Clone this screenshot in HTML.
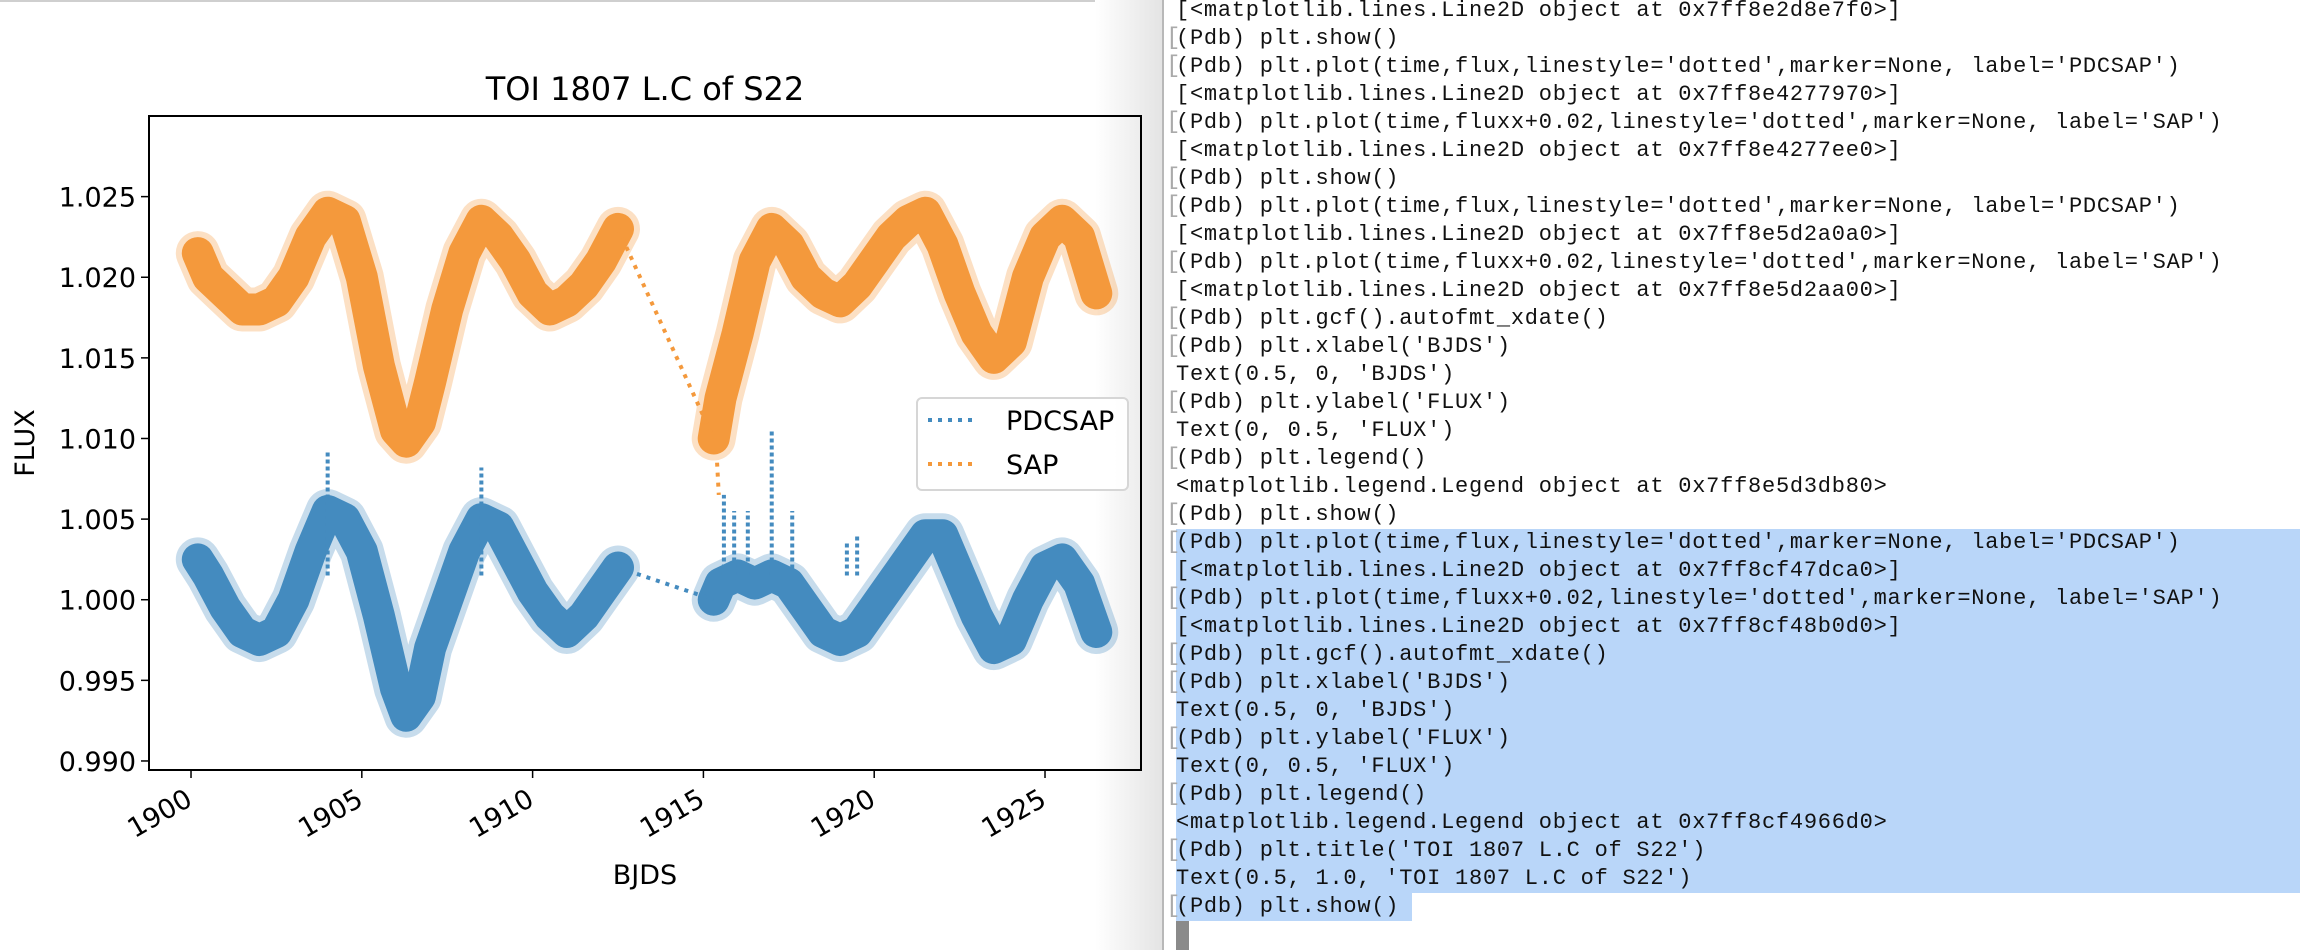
<!DOCTYPE html>
<html><head><meta charset="utf-8">
<style>
html,body{margin:0;padding:0;background:#fff;}
body{width:2300px;height:950px;position:relative;overflow:hidden;font-family:"DejaVu Sans","Liberation Sans",sans-serif;}
#term{position:absolute;left:1162px;top:0;width:1138px;height:950px;background:#fff;border-left:2px solid #b8b8b8;}
.ln{position:absolute;left:12px;font-family:"Liberation Mono",monospace;font-size:22px;letter-spacing:0.75px;white-space:pre;color:#111;line-height:28px;}
.br{position:absolute;left:2px;color:#aaa;font-family:"Liberation Mono",monospace;font-size:24px;line-height:28px;}
</style></head>
<body>
<div style="position:absolute;left:0;top:0;width:1162px;height:2px;background:#cfcfcf"></div>
<div style="position:absolute;left:1095px;top:0;width:67px;height:950px;background:linear-gradient(to right,#fff,#e4e4e4)"></div>
<svg id="chart" width="1162" height="950" style="position:absolute;left:0;top:0"></svg>
<div id="term">
<div style="position:absolute;left:12px;top:529px;width:1140px;height:364px;background:#b9d6f9"></div>
<div style="position:absolute;left:12px;top:893px;width:236px;height:28px;background:#b9d6f9"></div>
<div style="position:absolute;left:12px;top:921px;width:13px;height:29px;background:#8a8a8a"></div>
</div>
<script>
// ---- chart data ----
const pdcTime=[1900.2,1900.5,1901,1901.5,1902,1902.5,1903,1903.5,1904,1904.5,1905,1905.5,1906,1906.3,1906.7,1907,1907.5,1908,1908.5,1909,1909.5,1910,1910.5,1911,1911.5,1912,1912.5];
const pdcFlux=[1.0025,1.0015,0.9995,0.998,0.9975,0.998,1.0,1.003,1.0055,1.005,1.003,0.999,0.9945,0.9928,0.994,0.997,1.0,1.003,1.005,1.0045,1.0025,1.0005,0.999,0.998,0.999,1.0005,1.002];
const pdcTime2=[1915.3,1915.5,1916,1916.5,1917,1917.5,1918,1918.5,1919,1919.5,1920,1920.5,1921,1921.5,1922,1922.5,1923,1923.5,1924,1924.5,1925,1925.5,1926,1926.5];
const pdcFlux2=[1.0,1.001,1.0015,1.001,1.0015,1.001,0.9995,0.998,0.9975,0.998,0.9995,1.001,1.0025,1.004,1.004,1.0015,0.999,0.997,0.9975,1.0,1.002,1.0025,1.001,0.998];
const sapFlux=[1.0215,1.020,1.019,1.018,1.018,1.0185,1.020,1.0225,1.024,1.0235,1.020,1.0145,1.0105,1.0098,1.0110,1.0135,1.018,1.0215,1.0235,1.0225,1.021,1.019,1.018,1.0185,1.0195,1.021,1.023];
const sapFlux2=[1.010,1.0125,1.0165,1.021,1.023,1.022,1.020,1.019,1.0185,1.0195,1.021,1.0225,1.0235,1.024,1.022,1.019,1.0165,1.015,1.016,1.020,1.0225,1.0235,1.0225,1.019];
const spikeTime=[1915.6,1915.9,1916.3,1917.0,1917.6,1919.2,1919.5,1904.0,1908.5];
const spikeFlux=[1.0065,1.0055,1.0055,1.0105,1.0055,1.0035,1.004,1.0092,1.0082];
const xTicks=[1900,1905,1910,1915,1920,1925];
const yTicks=[0.990,0.995,1.000,1.005,1.010,1.015,1.020,1.025];
const seriesNames=["PDCSAP","SAP"];

const L=149,R=1141,T=116,B=770;
const X0=1898.77,X1=1927.81,Y0=0.98944,Y1=1.0300;
const sx=t=>L+(t-X0)/(X1-X0)*(R-L);
const sy=v=>B-(v-Y0)/(Y1-Y0)*(B-T);
const NS="http://www.w3.org/2000/svg";
const svg=document.getElementById('chart');
function mk(tag,attrs,parent){const e=document.createElementNS(NS,tag);for(const k in attrs)e.setAttribute(k,attrs[k]);(parent||svg).appendChild(e);return e;}
function pts(ts,vs){return ts.map((t,i)=>sx(t).toFixed(1)+','+sy(vs[i]).toFixed(1)).join(' ');}
const BLUE='#448bbf',ORANGE='#f4993c';
function band(ts,vs,col,name){
  const q=mk('polyline',{points:pts(ts,vs),fill:'none',stroke:col,'stroke-width':44,'stroke-opacity':0.3,'stroke-linejoin':'round','stroke-linecap':'round'});
  
  
  const p=mk('polyline',{points:pts(ts,vs),fill:'none',stroke:col,'stroke-width':32,'stroke-linejoin':'round','stroke-linecap':'round'});
  
  
}
function gap(t0,v0,t1,v1,col,name){
  const g=mk('line',{x1:sx(t0),y1:sy(v0),x2:sx(t1),y2:sy(v1),stroke:col,'stroke-width':4,'stroke-dasharray':'4 6'});
  
  
}
band(pdcTime,pdcFlux,BLUE,'pdcsap-segment-1');
band(pdcTime2,pdcFlux2,BLUE,'pdcsap-segment-2');
gap(pdcTime[pdcTime.length-1],pdcFlux[pdcFlux.length-1],pdcTime2[0],pdcFlux2[0],BLUE,'pdcsap-gap');
spikeTime.forEach((t,i)=>{
  const s=mk('line',{x1:sx(t),y1:sy(1.0015),x2:sx(t),y2:sy(spikeFlux[i]),stroke:BLUE,'stroke-width':4,'stroke-dasharray':'4 3'});
  
  
});
band(pdcTime,sapFlux,ORANGE,'sap-segment-1');
band(pdcTime2,sapFlux2,ORANGE,'sap-segment-2');
gap(pdcTime[pdcTime.length-1],sapFlux[sapFlux.length-1],pdcTime2[0],sapFlux2[0],ORANGE,'sap-gap');
gap(1915.4,1.0085,1915.45,1.0065,ORANGE,'sap-drop');

// axes frame
const fr=mk('rect',{x:L,y:T,width:R-L,height:B-T,fill:'none',stroke:'#000','stroke-width':2});


yTicks.forEach(v=>{
  const y=sy(v);
  const tk=mk('line',{x1:L-8,y1:y,x2:L,y2:y,stroke:'#000','stroke-width':1.5});
  
  
  const tx=mk('text',{x:L-13,y:y+10,'text-anchor':'end','font-size':27,fill:'#000'});
  tx.textContent=v.toFixed(3);
  
  
});
xTicks.forEach(t=>{
  const x=sx(t);
  const tk=mk('line',{x1:x,y1:B,x2:x,y2:B+8,stroke:'#000','stroke-width':1.5});
  
  
  const tx=mk('text',{x:x-4,y:B+22,'text-anchor':'end','font-size':27,fill:'#000',transform:`rotate(-30 ${x-4} ${B+22}) translate(0 14)`});
  tx.textContent=t;
  
  
});
const ttl=mk('text',{x:(L+R)/2,y:100,'text-anchor':'middle','font-size':32,fill:'#000'});
ttl.textContent='TOI 1807 L.C of S22';


const xl=mk('text',{x:(L+R)/2,y:884,'text-anchor':'middle','font-size':27,fill:'#000'});
xl.textContent='BJDS';


const yl=mk('text',{x:0,y:0,'text-anchor':'middle','font-size':27,fill:'#000',transform:`translate(34 ${(T+B)/2}) rotate(-90)`});
yl.textContent='FLUX';


// legend
const lg=mk('rect',{x:917,y:398,width:211,height:92,rx:5,fill:'#fff','fill-opacity':0.9,stroke:'#d6d6d6','stroke-width':2});


[BLUE,ORANGE].forEach((c,i)=>{
  const y=420+i*44;
  const ln=mk('line',{x1:928,y1:y,x2:976,y2:y,stroke:c,'stroke-width':4,'stroke-dasharray':'4 6'});
  
  
  const tx=mk('text',{x:1006,y:y+10,'font-size':27,fill:'#000'});
  tx.textContent=seriesNames[i];
  
  
});

// terminal
const lines=[
"[<matplotlib.lines.Line2D object at 0x7ff8e2d8e7f0>]",
"(Pdb) plt.show()",
"(Pdb) plt.plot(time,flux,linestyle='dotted',marker=None, label='PDCSAP')",
"[<matplotlib.lines.Line2D object at 0x7ff8e4277970>]",
"(Pdb) plt.plot(time,fluxx+0.02,linestyle='dotted',marker=None, label='SAP')",
"[<matplotlib.lines.Line2D object at 0x7ff8e4277ee0>]",
"(Pdb) plt.show()",
"(Pdb) plt.plot(time,flux,linestyle='dotted',marker=None, label='PDCSAP')",
"[<matplotlib.lines.Line2D object at 0x7ff8e5d2a0a0>]",
"(Pdb) plt.plot(time,fluxx+0.02,linestyle='dotted',marker=None, label='SAP')",
"[<matplotlib.lines.Line2D object at 0x7ff8e5d2aa00>]",
"(Pdb) plt.gcf().autofmt_xdate()",
"(Pdb) plt.xlabel('BJDS')",
"Text(0.5, 0, 'BJDS')",
"(Pdb) plt.ylabel('FLUX')",
"Text(0, 0.5, 'FLUX')",
"(Pdb) plt.legend()",
"<matplotlib.legend.Legend object at 0x7ff8e5d3db80>",
"(Pdb) plt.show()",
"(Pdb) plt.plot(time,flux,linestyle='dotted',marker=None, label='PDCSAP')",
"[<matplotlib.lines.Line2D object at 0x7ff8cf47dca0>]",
"(Pdb) plt.plot(time,fluxx+0.02,linestyle='dotted',marker=None, label='SAP')",
"[<matplotlib.lines.Line2D object at 0x7ff8cf48b0d0>]",
"(Pdb) plt.gcf().autofmt_xdate()",
"(Pdb) plt.xlabel('BJDS')",
"Text(0.5, 0, 'BJDS')",
"(Pdb) plt.ylabel('FLUX')",
"Text(0, 0.5, 'FLUX')",
"(Pdb) plt.legend()",
"<matplotlib.legend.Legend object at 0x7ff8cf4966d0>",
"(Pdb) plt.title('TOI 1807 L.C of S22')",
"Text(0.5, 1.0, 'TOI 1807 L.C of S22')",
"(Pdb) plt.show()"];
const term=document.getElementById('term');
lines.forEach((s,i)=>{
  const d=document.createElement('div');
  d.className='ln';
  d.style.top=(i*28-3)+'px';
  d.textContent=s;
  
  
  term.appendChild(d);
  if(s.startsWith('(Pdb)')){
    const b=document.createElement('div');
    b.className='br';
    b.style.top=(i*28-3)+'px';
    b.textContent='[';
    
    
    term.appendChild(b);
  }
});
</script>
</body></html>
